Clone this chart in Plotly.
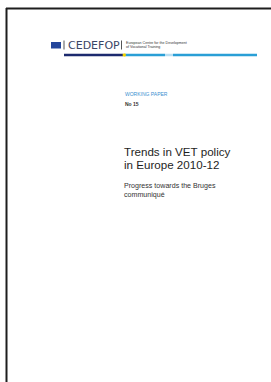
import plotly.graph_objects as go

# ---- content (text) ----
logo_name = "CEDEFOP"
logo_sub = ["European Centre for the Development", "of Vocational Training"]
series_label = "WORKING PAPER"
series_number = "No 15"
title_lines = ["Trends in VET policy", "in Europe 2010-12"]
subtitle_lines = ["Progress towards the Bruges", "communiqué"]

# ---- colour bar segments of the logo rule (start, end, colour) ----
rule_starts = [64, 125, 165, 173]
rule_ends = [123, 165, 173, 257]
rule_colors = ["#1c2a6e", "#2a9fd6", "#b9def2", "#2a9fd6"]

W, H = 271, 382
fig = go.Figure()

shapes = []
# page border (top and left)
shapes.append(dict(type="line", x0=6, x1=W, y0=8.5, y1=8.5, line=dict(color="#1e1e1e", width=2)))
shapes.append(dict(type="line", x0=6.5, x1=6.5, y0=8, y1=H, line=dict(color="#1e1e1e", width=2)))
# EU flag
shapes.append(dict(type="rect", x0=51, x1=61, y0=42, y1=48.5, fillcolor="#23459b", line=dict(width=0)))
# separators
shapes.append(dict(type="line", x0=64, x1=64, y0=40.5, y1=49.5, line=dict(color="#555", width=1)))
shapes.append(dict(type="line", x0=121.5, x1=121.5, y0=40.5, y1=49.5, line=dict(color="#555", width=1)))
# coloured rule
for s, e, c in zip(rule_starts, rule_ends, rule_colors):
    shapes.append(dict(type="line", x0=s, x1=e, y0=55, y1=55, line=dict(color=c, width=2.5)))
shapes.append(dict(type="circle", x0=122.5, x1=126, y0=53.3, y1=56.8, fillcolor="#f2d200", line=dict(width=0)))

ann = []
def txt(t, x, y, size, color, family="Liberation Sans, Arial, sans-serif"):
    ann.append(dict(text=t, x=x, y=y, xref="x", yref="y", xanchor="left", yanchor="middle",
                    showarrow=False, borderpad=0, font=dict(size=size, color=color, family=family)))

txt(logo_name, 66.5, 45.5, 11, "#3a4666", "DejaVu Sans, sans-serif")
txt(logo_sub[0], 124.5, 43.3, 3.6, "#333")
txt(logo_sub[1], 124.5, 47.3, 3.6, "#333")
txt(series_label, 123.5, 94, 5, "#3b8fd0")
txt("<b>" + series_number + "</b>", 123.5, 104, 5, "#333")
txt(title_lines[0], 122.5, 151, 11.6, "#1e1e1e")
txt(title_lines[1], 122.5, 164, 11.6, "#1e1e1e")
txt(subtitle_lines[0], 122.5, 186, 7.1, "#333")
txt(subtitle_lines[1], 122.5, 195, 7.1, "#333")

fig.update_layout(
    width=W, height=H, margin=dict(l=0, r=0, t=0, b=0),
    paper_bgcolor="white", plot_bgcolor="white",
    xaxis=dict(range=[0, W], visible=False, fixedrange=True),
    yaxis=dict(range=[H, 0], visible=False, fixedrange=True),
    shapes=shapes, annotations=ann, showlegend=False,
)
fig.write_html(
    "out.html",
    config={"displayModeBar": False},
    post_script="document.body.style.margin='0';document.body.style.overflow='hidden';",
)
